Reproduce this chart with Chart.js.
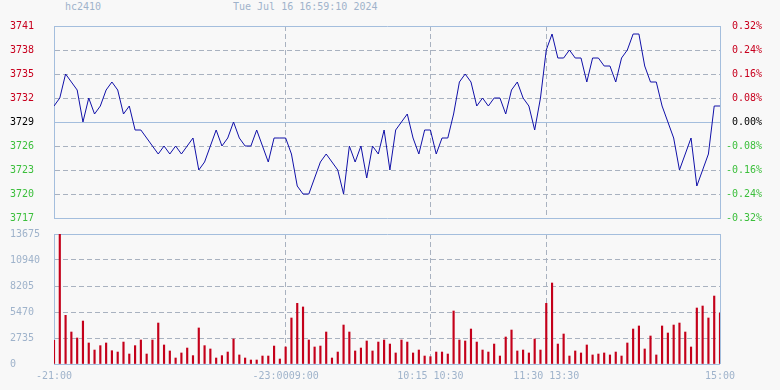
<!DOCTYPE html>
<html>
<head>
<meta charset="utf-8">
<title>hc2410</title>
<script src="https://cdn.jsdelivr.net/npm/chart.js@4/dist/chart.umd.min.js"></script>
<style>
  body { margin: 0; background: #f8f8f8; }
  #wrap { position: relative; width: 780px; height: 390px; background: #f8f8f8; overflow: hidden; }
  #wrap canvas { position: absolute; left: 0; }
  #priceCanvas { top: 0; }
  #volCanvas { top: 228px; }
  .hdr { position: absolute; top: 1px; font: 10px 'DejaVu Sans Mono', monospace; color: #9fb3cb; white-space: pre; }
</style>
</head>
<body>
<div id="wrap">
  <span class="hdr" style="left:65px">hc2410</span>
  <span class="hdr" style="left:233px">Tue Jul 16 16:59:10 2024</span>
  <canvas id="priceCanvas" width="780" height="228"></canvas>
  <canvas id="volCanvas" width="780" height="162"></canvas>
</div>
<script>
// 3-minute samples, 21:00 night session through 15:00 close
const preClose = 3729;

const prices = [
  3731, 3732, 3735, 3734, 3733, 3729, 3732, 3730, 3731, 3733,
  3734, 3733, 3730, 3731, 3728, 3728, 3727, 3726, 3725, 3726,
  3725, 3726, 3725, 3726, 3727, 3723, 3724, 3726, 3728, 3726,
  3727, 3729, 3727, 3726, 3726, 3728, 3726, 3724, 3727, 3727,
  3727, 3725, 3721, 3720, 3720, 3722, 3724, 3725, 3724, 3723,
  3720, 3726, 3724, 3726, 3722, 3726, 3725, 3728, 3723, 3728,
  3729, 3730, 3727, 3725, 3728, 3728, 3725, 3727, 3727, 3730,
  3734, 3735, 3734, 3731, 3732, 3731, 3732, 3732, 3730, 3733,
  3734, 3732, 3731, 3728, 3732, 3738, 3740, 3737, 3737, 3738,
  3737, 3737, 3734, 3737, 3737, 3736, 3736, 3734, 3737, 3738,
  3740, 3740, 3736, 3734, 3734, 3731, 3729, 3727, 3723, 3725,
  3727, 3721, 3723, 3725, 3731, 3731
];

const volumes = [
  2490, 13675, 5120, 3365, 2735, 4520, 2210, 1470, 1930, 2210,
  1400, 1260, 2310, 1050, 1930, 2525, 1050, 2525, 4310, 2000,
  1370, 630, 1160, 1680, 880, 3790, 1930, 1580, 630, 880,
  1260, 2630, 950, 630, 420, 420, 840, 840, 1890, 525,
  1790, 4840, 6380, 6000, 2525, 1790, 1890, 3365, 630, 1260,
  4100, 3365, 1370, 1680, 2420, 1370, 2310, 2525, 2100, 1160,
  2525, 2310, 1160, 1470, 840, 770, 1260, 1260, 1050, 5575,
  2525, 2420, 3680, 2310, 1470, 1260, 2100, 840, 2840, 3575,
  1370, 1470, 1160, 2630, 1470, 6380, 8520, 2100, 3155, 840,
  1370, 1160, 2000, 950, 1050, 1160, 950, 1260, 840, 2210,
  3680, 4000, 1580, 2945, 950, 4000, 3260, 4100, 4310, 3365,
  1790, 5890, 6100, 4840, 7150, 5360
];

// session boundaries (sample index) and their labels
const sessionTicks = [0, 40, 65, 85, 115];
const sessionLabels = ['-21:00', '-23:0009:00', '10:15 10:30', '11:30 13:30', '15:00'];

const priceMin = 3717, priceMax = 3741, priceStep = 3;
const pctMin = -0.32, pctMax = 0.32, pctStep = 0.08;
const volMax = 13675, volStep = 2735;

const FRAME = '#a4bedd';
const DASH = '#a9b2c0';
const LINE_BLUE = '#1010a8';
const BAR_RED = '#c4001a';
const UP_RED = '#c8001e';
const DOWN_GREEN = '#3cbf3c';
const AXIS_TEXT = '#9fb3cb';

Chart.defaults.font.family = "'DejaVu Sans Mono', monospace";
Chart.defaults.font.size = 10;

function setSessionTicks(scale) {
  scale.ticks = sessionTicks.map(v => ({ value: v }));
}

// vertical session dividers are dashed, the outer edges solid
const xGrid = {
  offset: false,
  drawTicks: false,
  color: ctx => (ctx.tick && (ctx.index === 0 || ctx.index === sessionTicks.length - 1)) ? FRAME : DASH
};
const xBorder = {
  display: false,
  dash: ctx => (ctx.tick && ctx.index > 0 && ctx.index < sessionTicks.length - 1) ? [5, 3] : []
};

function priceColor(v) {
  if (v > preClose) return UP_RED;
  if (v < preClose) return DOWN_GREEN;
  return '#000000';
}

const priceChart = new Chart(document.getElementById('priceCanvas'), {
  type: 'line',
  data: {
    datasets: [{
      data: prices.map((p, i) => ({ x: i, y: p })),
      borderColor: LINE_BLUE,
      borderWidth: 1,
      pointRadius: 0,
      tension: 0,
      yAxisID: 'y'
    }]
  },
  options: {
    responsive: false,
    animation: false,
    layout: { padding: { left: 10, right: 18, top: 26, bottom: 10 } },
    plugins: { legend: { display: false }, tooltip: { enabled: false } },
    scales: {
      x: {
        type: 'linear',
        min: 0,
        max: sessionTicks[sessionTicks.length - 1],
        afterBuildTicks: setSessionTicks,
        afterFit: s => { s.height = 0; },
        ticks: { display: false },
        grid: xGrid,
        border: xBorder
      },
      y: {
        position: 'left',
        min: priceMin,
        max: priceMax,
        afterFit: s => { s.width = 44; },
        ticks: {
          stepSize: priceStep,
          crossAlign: 'far',
          padding: 0,
          color: ctx => priceColor(ctx.tick.value),
          callback: v => String(v)
        },
        grid: {
          drawTicks: false,
          color: ctx => {
            const v = ctx.tick ? ctx.tick.value : 0;
            return (v === priceMin || v === priceMax || v === preClose) ? FRAME : DASH;
          }
        },
        border: {
          display: true,
          color: FRAME,
          dash: ctx => {
            const v = ctx.tick ? ctx.tick.value : priceMin;
            return (v === priceMin || v === priceMax || v === preClose) ? [] : [5, 3];
          }
        }
      },
      pct: {
        position: 'right',
        min: pctMin,
        max: pctMax,
        afterFit: s => { s.width = 42; },
        ticks: {
          stepSize: pctStep,
          crossAlign: 'far',
          padding: 0,
          color: ctx => {
            const v = ctx.tick.value;
            if (v > 1e-9) return UP_RED;
            if (v < -1e-9) return DOWN_GREEN;
            return '#000000';
          },
          callback: v => (Math.abs(v) < 1e-9 ? '0.00' : v.toFixed(2)) + '%'
        },
        grid: { drawOnChartArea: false, drawTicks: false },
        border: { display: true, color: FRAME }
      }
    }
  }
});

const volChart = new Chart(document.getElementById('volCanvas'), {
  type: 'bar',
  data: {
    datasets: [{
      data: volumes.map((v, i) => ({ x: i, y: v })),
      backgroundColor: BAR_RED,
      borderWidth: 0,
      barThickness: 1.5
    }]
  },
  options: {
    responsive: false,
    animation: false,
    layout: { padding: { left: 10, right: 60, top: 6, bottom: 0 } },
    plugins: { legend: { display: false }, tooltip: { enabled: false } },
    scales: {
      x: {
        type: 'linear',
        offset: false,
        min: 0,
        max: sessionTicks[sessionTicks.length - 1],
        afterBuildTicks: setSessionTicks,
        afterFit: s => { s.height = 26; },
        ticks: {
          autoSkip: false,
          maxRotation: 0,
          padding: 6,
          color: AXIS_TEXT,
          callback: (v, i) => sessionLabels[i]
        },
        grid: xGrid,
        border: xBorder
      },
      y: {
        min: 0,
        max: volMax,
        afterFit: s => { s.width = 44; },
        ticks: {
          stepSize: volStep,
          crossAlign: 'far',
          padding: 0,
          color: AXIS_TEXT,
          callback: v => String(v)
        },
        grid: {
          drawTicks: false,
          color: ctx => {
            const v = ctx.tick ? ctx.tick.value : 0;
            return (v === 0 || v === volMax) ? FRAME : DASH;
          }
        },
        border: {
          display: true,
          color: FRAME,
          dash: ctx => {
            const v = ctx.tick ? ctx.tick.value : 0;
            return (v === 0 || v === volMax) ? [] : [5, 3];
          }
        }
      }
    }
  }
});
</script>
</body>
</html>
